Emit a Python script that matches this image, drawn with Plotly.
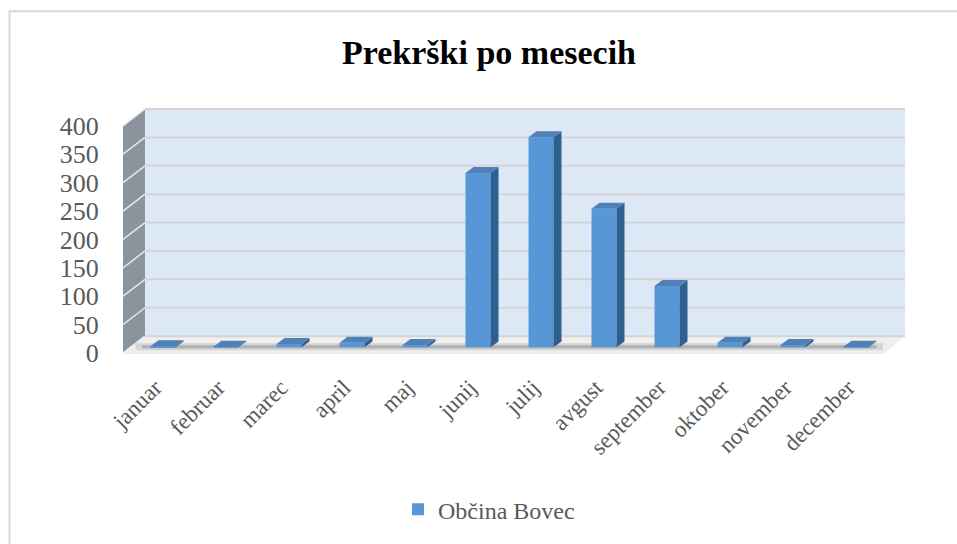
import plotly.graph_objects as go

months = ["januar", "februar", "marec", "april", "maj", "junij",
          "julij", "avgust", "september", "oktober", "november", "december"]
prekrski = [2, 1, 6, 8, 4, 307, 370, 244, 108, 8, 4, 1]
series_name = "Občina Bovec"
y_ticks = [0, 50, 100, 150, 200, 250, 300, 350, 400]

# pixel layout of the "3D" box
W, H = 957, 544
L, R, T, B = 123, 905, 108, 356
px_x = 63.0          # px per category
px_y = 0.5725        # px per unit
x0 = -(163 - L) / px_x
x1 = x0 + (R - L) / px_x
y0 = -(B - 355) / px_y
y1 = 400 + (126 - T) / px_y

dx = 22 / px_x       # wall depth
dy = 17 / px_y
bw = 25 / px_x       # bar front width
bdx = 8 / px_x       # bar depth
bdy = 6 / px_y
base = 10

FONT = "Liberation Serif"
GREY = "#595959"

shapes = []
# back wall
shapes.append(dict(type="rect", xref="x", yref="y", x0=x0 + dx, x1=x1, y0=dy, y1=400 + dy,
                   fillcolor="#dde8f6", line=dict(width=0), layer="below"))
# left wall
shapes.append(dict(type="path", xref="x", yref="y", layer="below",
                   path=f"M{x0},{0} L{x0 + dx},{dy} L{x0 + dx},{400 + dy} L{x0},{400} Z",
                   fillcolor="#8b949c", line=dict(width=0)))
# floor
shapes.append(dict(type="path", xref="x", yref="y", layer="below",
                   path=f"M{x0},{-3} L{x0 + dx},{dy} L{x1},{dy} L{x1 - dx},{-3} Z",
                   fillcolor="#efefef", line=dict(width=0)))
for v in y_ticks:
    shapes.append(dict(type="line", xref="x", yref="y", layer="below",
                       x0=x0 + dx, x1=x1, y0=v + dy, y1=v + dy,
                       line=dict(color="#d4d4d4", width=2)))
    shapes.append(dict(type="line", xref="x", yref="y", layer="below",
                       x0=x0, x1=x0 + dx, y0=v, y1=v + dy,
                       line=dict(color="#e6e9ec", width=1.5)))
# soft shadow band on floor and the front edge
shapes.append(dict(type="line", xref="x", yref="y", layer="below",
                   x0=x0 + 0.2, x1=x1 - 0.35, y0=base + 1, y1=base + 1,
                   line=dict(color="rgba(90,90,90,0.18)", width=7)))
shapes.append(dict(type="line", xref="x", yref="y", layer="below",
                   x0=x0 + 0.3, x1=x1 - 0.45, y0=base + 1, y1=base + 1,
                   line=dict(color="rgba(70,70,70,0.25)", width=3)))
shapes.append(dict(type="line", xref="x", yref="y", layer="below",
                   x0=x0, x1=x1 - dx, y0=-3, y1=-3,
                   line=dict(color="#d6d6d6", width=2)))
# outer chart frame
shapes.append(dict(type="rect", xref="paper", yref="paper",
                   x0=(9.5 - L) / (R - L), x1=(W + 20 - L) / (R - L),
                   y0=(B - H - 20) / (B - T), y1=(B - 10.5) / (B - T),
                   line=dict(color="#d9d9d9", width=2), layer="below"))

fig = go.Figure()
fig.add_trace(go.Bar(x=list(range(len(months))), y=prekrski, base=base, width=bw,
                     name=series_name, marker=dict(color="#5797d6", line=dict(width=0))))

# side and top faces
side_x, side_y, top_x, top_y = [], [], [], []
for i, v in enumerate(prekrski):
    r = i + bw / 2
    l = i - bw / 2
    side_x += [r, r, r + bdx, r + bdx, r, None]
    side_y += [base, base + v, base + v + bdy, base + bdy, base, None]
    top_x += [l, l + bdx, r + bdx, r, l, None]
    top_y += [base + v, base + v + bdy, base + v + bdy, base + v, base + v, None]
fig.add_trace(go.Scatter(x=side_x, y=side_y, mode="lines", fill="toself",
                         fillcolor="#2f5f8e", line=dict(width=0), showlegend=False,
                         hoverinfo="skip"))
fig.add_trace(go.Scatter(x=top_x, y=top_y, mode="lines", fill="toself",
                         fillcolor="#4f80b7", line=dict(width=0), showlegend=False,
                         hoverinfo="skip"))

fig.update_layout(
    width=W, height=H,
    margin=dict(l=L, r=W - R, t=T, b=H - B),
    paper_bgcolor="white", plot_bgcolor="rgba(0,0,0,0)",
    title=dict(text="<b>Prekrški po mesecih</b>", x=489 / W, y=1 - 52 / H,
               xanchor="center", yanchor="middle",
               font=dict(family=FONT, size=34, color="black")),
    shapes=shapes,
    showlegend=True,
    legend=dict(orientation="h", x=(489 - L) / (R - L), xanchor="center",
                y=(B - 513) / (B - T), yanchor="middle",
                font=dict(family=FONT, size=24, color=GREY)),
    xaxis=dict(range=[x0, x1], tickvals=list(range(len(months))), ticktext=months,
               tickangle=-45, showgrid=False, zeroline=False, showline=False,
               ticks="outside", ticklen=10, tickcolor="rgba(0,0,0,0)",
               ticklabelshift=-8,
               tickfont=dict(family=FONT, size=23, color=GREY)),
    yaxis=dict(range=[y0, y1], tickvals=y_ticks, showgrid=False, zeroline=False,
               showline=False, ticks="outside", ticklen=18, tickcolor="rgba(0,0,0,0)",
               tickfont=dict(family=FONT, size=26, color=GREY)),
)

fig.write_html("out.html", config={"displayModeBar": False},
               post_script="document.body.style.margin='0';")
